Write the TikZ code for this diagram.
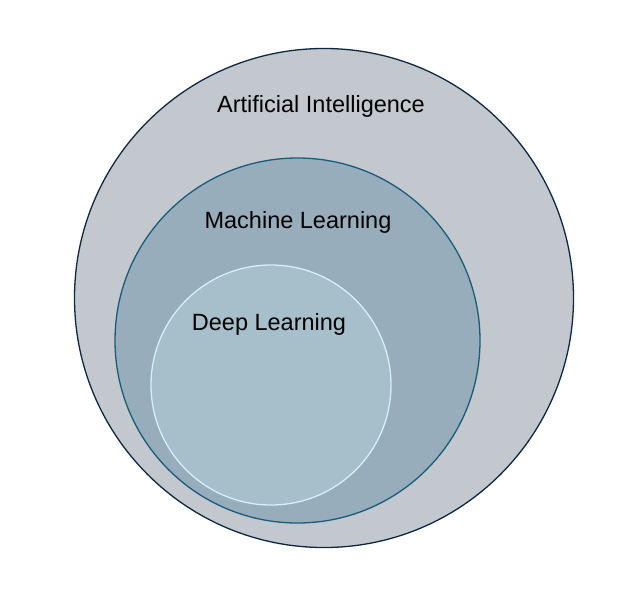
\documentclass[tikz,border=0pt]{standalone}
\usepackage{fontspec}
\setmainfont{Liberation Sans}
\usepackage{xcolor}
\usepackage{tikz}
\definecolor{aifill}{HTML}{C3C8CE}
\definecolor{ailine}{HTML}{0E2841}
\definecolor{mlfill}{HTML}{97ADBB}
\definecolor{mlline}{HTML}{1A5C7C}
\definecolor{dlfill}{HTML}{A6BFCB}
\definecolor{dlline}{HTML}{D4F0F8}
\tikzset{
  vset/.style={circle,inner sep=0pt,line width=1.3pt},
  vai/.style={vset,draw=ailine,fill=aifill},
  vml/.style={vset,draw=mlline,fill=mlfill},
  vdl/.style={vset,draw=dlline,fill=dlfill},
  vlabel/.style={text=black,inner sep=0pt,font=\fontsize{23.5}{28}\selectfont}
}
\begin{document}
\begin{tikzpicture}[x=1pt,y=-1pt]
  \useasboundingbox (0,0) rectangle (628,597);
  \node[vai,minimum size=499pt] (ai) at (324,298) {};
  \node[vml,minimum size=365pt] (ml) at (297.5,340.5) {};
  \node[vdl,minimum size=240pt] (dl) at (271,385) {};
  \node[vlabel] (ait) at (321,106) {Artificial Intelligence};
  \node[vlabel] (mlt) at (298,222) {Machine Learning};
  \node[vlabel] (dlt) at (269,324) {Deep Learning};
\end{tikzpicture}
\end{document}
